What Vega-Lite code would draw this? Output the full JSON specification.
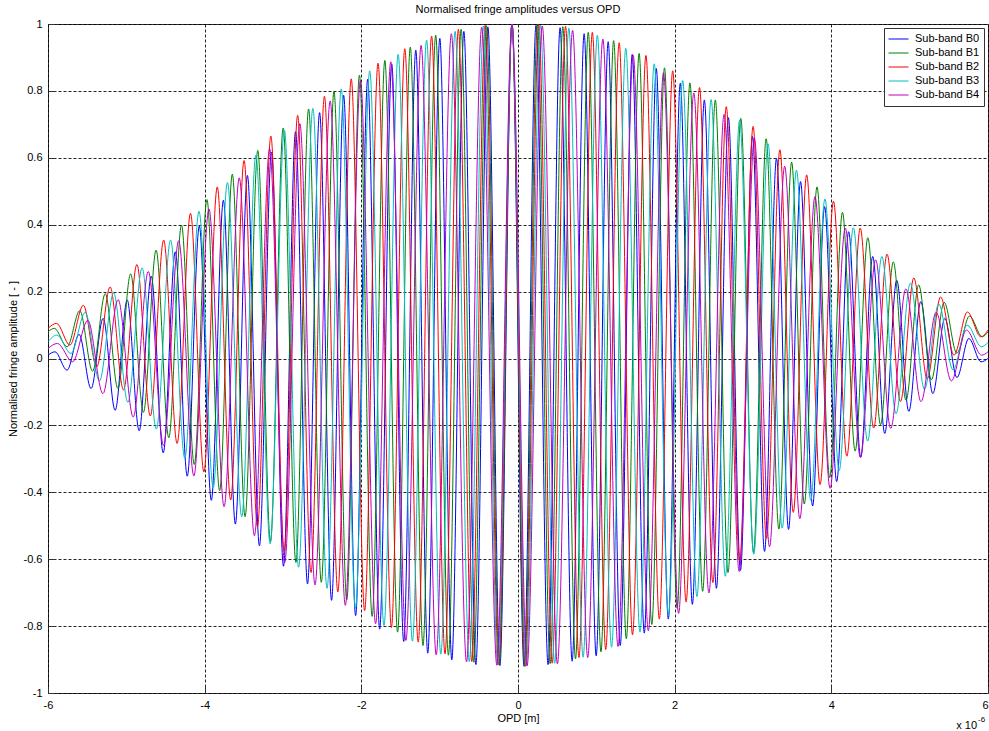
{
"$schema":"https://vega.github.io/schema/vega-lite/v6.json",
"width":940,"height":669,
"autosize":{"type":"none"},
"padding":{"left":48,"top":24,"right":1,"bottom":38},
"background":"white",
"title":{"text":"Normalised fringe amplitudes versus OPD","font":"Liberation Sans","fontSize":11,"fontWeight":"normal","color":"#000","offset":3},
"config":{
 "view":{"stroke":"#333","strokeWidth":1},
 "axis":{"labelFont":"Liberation Sans","labelFontSize":11,"labelColor":"#000","titleFont":"Liberation Sans","titleFontSize":11,"titleFontWeight":"normal","titleColor":"#000","grid":true,"gridColor":"#000","gridDash":[3,2],"gridOpacity":0.85,"gridWidth":1,"domain":false,"ticks":true,"tickColor":"#333","tickSize":-7,"labelPadding":13,"labelFlush":false,"labelOverlap":false}
},
"data":{"values":[
{"s":"Sub-band B0","x":-6,"y":0.01},{"s":"Sub-band B0","x":-5.91,"y":0.02},{"s":"Sub-band B0","x":-5.757,"y":-0.035},{"s":"Sub-band B0","x":-5.603,"y":0.072},{"s":"Sub-band B0","x":-5.45,"y":-0.09},{"s":"Sub-band B0","x":-5.296,"y":0.12},{"s":"Sub-band B0","x":-5.143,"y":-0.155},{"s":"Sub-band B0","x":-4.989,"y":0.175},{"s":"Sub-band B0","x":-4.836,"y":-0.216},{"s":"Sub-band B0","x":-4.682,"y":0.246},{"s":"Sub-band B0","x":-4.529,"y":-0.282},{"s":"Sub-band B0","x":-4.375,"y":0.319},{"s":"Sub-band B0","x":-4.222,"y":-0.352},{"s":"Sub-band B0","x":-4.068,"y":0.396},{"s":"Sub-band B0","x":-3.915,"y":-0.424},{"s":"Sub-band B0","x":-3.761,"y":0.473},{"s":"Sub-band B0","x":-3.608,"y":-0.495},{"s":"Sub-band B0","x":-3.454,"y":0.547},{"s":"Sub-band B0","x":-3.301,"y":-0.56},{"s":"Sub-band B0","x":-3.147,"y":0.617},{"s":"Sub-band B0","x":-2.994,"y":-0.621},{"s":"Sub-band B0","x":-2.84,"y":0.678},{"s":"Sub-band B0","x":-2.687,"y":-0.674},{"s":"Sub-band B0","x":-2.533,"y":0.735},{"s":"Sub-band B0","x":-2.38,"y":-0.723},{"s":"Sub-band B0","x":-2.226,"y":0.787},{"s":"Sub-band B0","x":-2.073,"y":-0.769},{"s":"Sub-band B0","x":-1.919,"y":0.835},{"s":"Sub-band B0","x":-1.766,"y":-0.809},{"s":"Sub-band B0","x":-1.612,"y":0.881},{"s":"Sub-band B0","x":-1.459,"y":-0.846},{"s":"Sub-band B0","x":-1.305,"y":0.922},{"s":"Sub-band B0","x":-1.152,"y":-0.881},{"s":"Sub-band B0","x":-0.998,"y":0.957},{"s":"Sub-band B0","x":-0.845,"y":-0.901},{"s":"Sub-band B0","x":-0.691,"y":0.978},{"s":"Sub-band B0","x":-0.538,"y":-0.915},{"s":"Sub-band B0","x":-0.384,"y":0.991},{"s":"Sub-band B0","x":-0.231,"y":-0.918},{"s":"Sub-band B0","x":-0.077,"y":1.0},{"s":"Sub-band B0","x":0.077,"y":-0.92},{"s":"Sub-band B0","x":0.23,"y":0.996},{"s":"Sub-band B0","x":0.384,"y":-0.915},{"s":"Sub-band B0","x":0.537,"y":0.989},{"s":"Sub-band B0","x":0.691,"y":-0.905},{"s":"Sub-band B0","x":0.844,"y":0.971},{"s":"Sub-band B0","x":0.998,"y":-0.889},{"s":"Sub-band B0","x":1.151,"y":0.947},{"s":"Sub-band B0","x":1.305,"y":-0.858},{"s":"Sub-band B0","x":1.458,"y":0.909},{"s":"Sub-band B0","x":1.612,"y":-0.821},{"s":"Sub-band B0","x":1.765,"y":0.867},{"s":"Sub-band B0","x":1.919,"y":-0.779},{"s":"Sub-band B0","x":2.072,"y":0.823},{"s":"Sub-band B0","x":2.226,"y":-0.735},{"s":"Sub-band B0","x":2.379,"y":0.773},{"s":"Sub-band B0","x":2.533,"y":-0.687},{"s":"Sub-band B0","x":2.686,"y":0.72},{"s":"Sub-band B0","x":2.84,"y":-0.634},{"s":"Sub-band B0","x":2.993,"y":0.664},{"s":"Sub-band B0","x":3.147,"y":-0.577},{"s":"Sub-band B0","x":3.3,"y":0.598},{"s":"Sub-band B0","x":3.454,"y":-0.511},{"s":"Sub-band B0","x":3.607,"y":0.529},{"s":"Sub-band B0","x":3.761,"y":-0.441},{"s":"Sub-band B0","x":3.914,"y":0.454},{"s":"Sub-band B0","x":4.068,"y":-0.368},{"s":"Sub-band B0","x":4.221,"y":0.379},{"s":"Sub-band B0","x":4.375,"y":-0.295},{"s":"Sub-band B0","x":4.528,"y":0.305},{"s":"Sub-band B0","x":4.682,"y":-0.224},{"s":"Sub-band B0","x":4.835,"y":0.234},{"s":"Sub-band B0","x":4.989,"y":-0.158},{"s":"Sub-band B0","x":5.142,"y":0.17},{"s":"Sub-band B0","x":5.296,"y":-0.105},{"s":"Sub-band B0","x":5.449,"y":0.12},{"s":"Sub-band B0","x":5.603,"y":-0.057},{"s":"Sub-band B0","x":5.756,"y":0.06},{"s":"Sub-band B0","x":5.91,"y":-0.01},{"s":"Sub-band B0","x":6,"y":0.0},
{"s":"Sub-band B1","x":-6,"y":0.08},{"s":"Sub-band B1","x":-5.918,"y":0.09},{"s":"Sub-band B1","x":-5.756,"y":0.035},{"s":"Sub-band B1","x":-5.594,"y":0.143},{"s":"Sub-band B1","x":-5.431,"y":-0.038},{"s":"Sub-band B1","x":-5.269,"y":0.194},{"s":"Sub-band B1","x":-5.107,"y":-0.09},{"s":"Sub-band B1","x":-4.945,"y":0.253},{"s":"Sub-band B1","x":-4.782,"y":-0.161},{"s":"Sub-band B1","x":-4.62,"y":0.324},{"s":"Sub-band B1","x":-4.458,"y":-0.237},{"s":"Sub-band B1","x":-4.296,"y":0.399},{"s":"Sub-band B1","x":-4.133,"y":-0.317},{"s":"Sub-band B1","x":-3.971,"y":0.475},{"s":"Sub-band B1","x":-3.809,"y":-0.395},{"s":"Sub-band B1","x":-3.647,"y":0.551},{"s":"Sub-band B1","x":-3.484,"y":-0.473},{"s":"Sub-band B1","x":-3.322,"y":0.622},{"s":"Sub-band B1","x":-3.16,"y":-0.547},{"s":"Sub-band B1","x":-2.998,"y":0.689},{"s":"Sub-band B1","x":-2.835,"y":-0.61},{"s":"Sub-band B1","x":-2.673,"y":0.746},{"s":"Sub-band B1","x":-2.511,"y":-0.669},{"s":"Sub-band B1","x":-2.349,"y":0.798},{"s":"Sub-band B1","x":-2.186,"y":-0.722},{"s":"Sub-band B1","x":-2.024,"y":0.847},{"s":"Sub-band B1","x":-1.862,"y":-0.771},{"s":"Sub-band B1","x":-1.7,"y":0.891},{"s":"Sub-band B1","x":-1.537,"y":-0.818},{"s":"Sub-band B1","x":-1.375,"y":0.931},{"s":"Sub-band B1","x":-1.213,"y":-0.858},{"s":"Sub-band B1","x":-1.051,"y":0.967},{"s":"Sub-band B1","x":-0.888,"y":-0.887},{"s":"Sub-band B1","x":-0.726,"y":0.984},{"s":"Sub-band B1","x":-0.564,"y":-0.908},{"s":"Sub-band B1","x":-0.402,"y":0.995},{"s":"Sub-band B1","x":-0.239,"y":-0.916},{"s":"Sub-band B1","x":-0.077,"y":1.0},{"s":"Sub-band B1","x":0.085,"y":-0.92},{"s":"Sub-band B1","x":0.248,"y":0.998},{"s":"Sub-band B1","x":0.41,"y":-0.912},{"s":"Sub-band B1","x":0.572,"y":0.992},{"s":"Sub-band B1","x":0.734,"y":-0.898},{"s":"Sub-band B1","x":0.897,"y":0.975},{"s":"Sub-band B1","x":1.059,"y":-0.877},{"s":"Sub-band B1","x":1.221,"y":0.95},{"s":"Sub-band B1","x":1.383,"y":-0.838},{"s":"Sub-band B1","x":1.546,"y":0.912},{"s":"Sub-band B1","x":1.708,"y":-0.795},{"s":"Sub-band B1","x":1.87,"y":0.869},{"s":"Sub-band B1","x":2.032,"y":-0.747},{"s":"Sub-band B1","x":2.195,"y":0.824},{"s":"Sub-band B1","x":2.357,"y":-0.696},{"s":"Sub-band B1","x":2.519,"y":0.773},{"s":"Sub-band B1","x":2.681,"y":-0.64},{"s":"Sub-band B1","x":2.844,"y":0.718},{"s":"Sub-band B1","x":3.006,"y":-0.579},{"s":"Sub-band B1","x":3.168,"y":0.657},{"s":"Sub-band B1","x":3.33,"y":-0.51},{"s":"Sub-band B1","x":3.493,"y":0.587},{"s":"Sub-band B1","x":3.655,"y":-0.435},{"s":"Sub-band B1","x":3.817,"y":0.513},{"s":"Sub-band B1","x":3.979,"y":-0.356},{"s":"Sub-band B1","x":4.142,"y":0.437},{"s":"Sub-band B1","x":4.304,"y":-0.277},{"s":"Sub-band B1","x":4.466,"y":0.361},{"s":"Sub-band B1","x":4.628,"y":-0.198},{"s":"Sub-band B1","x":4.791,"y":0.289},{"s":"Sub-band B1","x":4.953,"y":-0.125},{"s":"Sub-band B1","x":5.115,"y":0.22},{"s":"Sub-band B1","x":5.277,"y":-0.064},{"s":"Sub-band B1","x":5.44,"y":0.168},{"s":"Sub-band B1","x":5.602,"y":0.016},{"s":"Sub-band B1","x":5.764,"y":0.127},{"s":"Sub-band B1","x":5.926,"y":0.065},{"s":"Sub-band B1","x":6,"y":0.08},
{"s":"Sub-band B2","x":-6,"y":0.09},{"s":"Sub-band B2","x":-5.891,"y":0.105},{"s":"Sub-band B2","x":-5.72,"y":0.04},{"s":"Sub-band B2","x":-5.549,"y":0.159},{"s":"Sub-band B2","x":-5.378,"y":-0.025},{"s":"Sub-band B2","x":-5.207,"y":0.214},{"s":"Sub-band B2","x":-5.036,"y":-0.094},{"s":"Sub-band B2","x":-4.865,"y":0.281},{"s":"Sub-band B2","x":-4.694,"y":-0.172},{"s":"Sub-band B2","x":-4.523,"y":0.354},{"s":"Sub-band B2","x":-4.352,"y":-0.254},{"s":"Sub-band B2","x":-4.181,"y":0.434},{"s":"Sub-band B2","x":-4.01,"y":-0.339},{"s":"Sub-band B2","x":-3.839,"y":0.513},{"s":"Sub-band B2","x":-3.668,"y":-0.423},{"s":"Sub-band B2","x":-3.497,"y":0.592},{"s":"Sub-band B2","x":-3.326,"y":-0.502},{"s":"Sub-band B2","x":-3.155,"y":0.665},{"s":"Sub-band B2","x":-2.984,"y":-0.577},{"s":"Sub-band B2","x":-2.813,"y":0.727},{"s":"Sub-band B2","x":-2.642,"y":-0.64},{"s":"Sub-band B2","x":-2.471,"y":0.784},{"s":"Sub-band B2","x":-2.3,"y":-0.698},{"s":"Sub-band B2","x":-2.129,"y":0.836},{"s":"Sub-band B2","x":-1.958,"y":-0.754},{"s":"Sub-band B2","x":-1.787,"y":0.883},{"s":"Sub-band B2","x":-1.616,"y":-0.804},{"s":"Sub-band B2","x":-1.445,"y":0.926},{"s":"Sub-band B2","x":-1.274,"y":-0.848},{"s":"Sub-band B2","x":-1.103,"y":0.964},{"s":"Sub-band B2","x":-0.932,"y":-0.883},{"s":"Sub-band B2","x":-0.761,"y":0.984},{"s":"Sub-band B2","x":-0.59,"y":-0.906},{"s":"Sub-band B2","x":-0.419,"y":0.996},{"s":"Sub-band B2","x":-0.248,"y":-0.915},{"s":"Sub-band B2","x":-0.077,"y":1.0},{"s":"Sub-band B2","x":0.094,"y":-0.92},{"s":"Sub-band B2","x":0.265,"y":0.998},{"s":"Sub-band B2","x":0.436,"y":-0.911},{"s":"Sub-band B2","x":0.607,"y":0.993},{"s":"Sub-band B2","x":0.778,"y":-0.894},{"s":"Sub-band B2","x":0.949,"y":0.975},{"s":"Sub-band B2","x":1.12,"y":-0.87},{"s":"Sub-band B2","x":1.291,"y":0.944},{"s":"Sub-band B2","x":1.462,"y":-0.826},{"s":"Sub-band B2","x":1.633,"y":0.906},{"s":"Sub-band B2","x":1.804,"y":-0.779},{"s":"Sub-band B2","x":1.975,"y":0.86},{"s":"Sub-band B2","x":2.146,"y":-0.728},{"s":"Sub-band B2","x":2.317,"y":0.81},{"s":"Sub-band B2","x":2.488,"y":-0.67},{"s":"Sub-band B2","x":2.659,"y":0.753},{"s":"Sub-band B2","x":2.83,"y":-0.606},{"s":"Sub-band B2","x":3.001,"y":0.694},{"s":"Sub-band B2","x":3.172,"y":-0.538},{"s":"Sub-band B2","x":3.343,"y":0.624},{"s":"Sub-band B2","x":3.514,"y":-0.46},{"s":"Sub-band B2","x":3.685,"y":0.549},{"s":"Sub-band B2","x":3.856,"y":-0.377},{"s":"Sub-band B2","x":4.027,"y":0.47},{"s":"Sub-band B2","x":4.198,"y":-0.292},{"s":"Sub-band B2","x":4.369,"y":0.39},{"s":"Sub-band B2","x":4.54,"y":-0.208},{"s":"Sub-band B2","x":4.711,"y":0.312},{"s":"Sub-band B2","x":4.882,"y":-0.129},{"s":"Sub-band B2","x":5.053,"y":0.241},{"s":"Sub-band B2","x":5.224,"y":-0.061},{"s":"Sub-band B2","x":5.395,"y":0.184},{"s":"Sub-band B2","x":5.566,"y":0.01},{"s":"Sub-band B2","x":5.737,"y":0.139},{"s":"Sub-band B2","x":5.908,"y":0.065},{"s":"Sub-band B2","x":6,"y":0.085},
{"s":"Sub-band B3","x":-6,"y":0.05},{"s":"Sub-band B3","x":-5.888,"y":0.07},{"s":"Sub-band B3","x":-5.707,"y":0.015},{"s":"Sub-band B3","x":-5.525,"y":0.138},{"s":"Sub-band B3","x":-5.343,"y":-0.067},{"s":"Sub-band B3","x":-5.162,"y":0.196},{"s":"Sub-band B3","x":-4.98,"y":-0.131},{"s":"Sub-band B3","x":-4.799,"y":0.271},{"s":"Sub-band B3","x":-4.617,"y":-0.211},{"s":"Sub-band B3","x":-4.435,"y":0.354},{"s":"Sub-band B3","x":-4.254,"y":-0.298},{"s":"Sub-band B3","x":-4.072,"y":0.44},{"s":"Sub-band B3","x":-3.891,"y":-0.386},{"s":"Sub-band B3","x":-3.709,"y":0.526},{"s":"Sub-band B3","x":-3.527,"y":-0.473},{"s":"Sub-band B3","x":-3.346,"y":0.608},{"s":"Sub-band B3","x":-3.164,"y":-0.554},{"s":"Sub-band B3","x":-2.983,"y":0.683},{"s":"Sub-band B3","x":-2.801,"y":-0.624},{"s":"Sub-band B3","x":-2.619,"y":0.748},{"s":"Sub-band B3","x":-2.438,"y":-0.687},{"s":"Sub-band B3","x":-2.256,"y":0.806},{"s":"Sub-band B3","x":-2.075,"y":-0.746},{"s":"Sub-band B3","x":-1.893,"y":0.86},{"s":"Sub-band B3","x":-1.711,"y":-0.798},{"s":"Sub-band B3","x":-1.53,"y":0.909},{"s":"Sub-band B3","x":-1.348,"y":-0.845},{"s":"Sub-band B3","x":-1.167,"y":0.952},{"s":"Sub-band B3","x":-0.985,"y":-0.884},{"s":"Sub-band B3","x":-0.803,"y":0.978},{"s":"Sub-band B3","x":-0.622,"y":-0.906},{"s":"Sub-band B3","x":-0.44,"y":0.994},{"s":"Sub-band B3","x":-0.259,"y":-0.916},{"s":"Sub-band B3","x":-0.077,"y":1.0},{"s":"Sub-band B3","x":0.105,"y":-0.919},{"s":"Sub-band B3","x":0.286,"y":0.997},{"s":"Sub-band B3","x":0.468,"y":-0.911},{"s":"Sub-band B3","x":0.649,"y":0.988},{"s":"Sub-band B3","x":0.831,"y":-0.893},{"s":"Sub-band B3","x":1.013,"y":0.966},{"s":"Sub-band B3","x":1.194,"y":-0.863},{"s":"Sub-band B3","x":1.376,"y":0.927},{"s":"Sub-band B3","x":1.557,"y":-0.818},{"s":"Sub-band B3","x":1.739,"y":0.881},{"s":"Sub-band B3","x":1.921,"y":-0.768},{"s":"Sub-band B3","x":2.102,"y":0.831},{"s":"Sub-band B3","x":2.284,"y":-0.712},{"s":"Sub-band B3","x":2.465,"y":0.774},{"s":"Sub-band B3","x":2.647,"y":-0.651},{"s":"Sub-band B3","x":2.829,"y":0.712},{"s":"Sub-band B3","x":3.01,"y":-0.585},{"s":"Sub-band B3","x":3.192,"y":0.642},{"s":"Sub-band B3","x":3.373,"y":-0.507},{"s":"Sub-band B3","x":3.555,"y":0.563},{"s":"Sub-band B3","x":3.737,"y":-0.424},{"s":"Sub-band B3","x":3.918,"y":0.477},{"s":"Sub-band B3","x":4.1,"y":-0.335},{"s":"Sub-band B3","x":4.281,"y":0.391},{"s":"Sub-band B3","x":4.463,"y":-0.247},{"s":"Sub-band B3","x":4.645,"y":0.305},{"s":"Sub-band B3","x":4.826,"y":-0.165},{"s":"Sub-band B3","x":5.008,"y":0.225},{"s":"Sub-band B3","x":5.189,"y":-0.092},{"s":"Sub-band B3","x":5.371,"y":0.163},{"s":"Sub-band B3","x":5.553,"y":-0.034},{"s":"Sub-band B3","x":5.734,"y":0.1},{"s":"Sub-band B3","x":5.916,"y":0.035},{"s":"Sub-band B3","x":6,"y":0.048},
{"s":"Sub-band B4","x":-6,"y":0.03},{"s":"Sub-band B4","x":-5.879,"y":0.045},{"s":"Sub-band B4","x":-5.686,"y":-0.01},{"s":"Sub-band B4","x":-5.492,"y":0.114},{"s":"Sub-band B4","x":-5.299,"y":-0.105},{"s":"Sub-band B4","x":-5.105,"y":0.176},{"s":"Sub-band B4","x":-4.912,"y":-0.175},{"s":"Sub-band B4","x":-4.719,"y":0.26},{"s":"Sub-band B4","x":-4.525,"y":-0.26},{"s":"Sub-band B4","x":-4.332,"y":0.352},{"s":"Sub-band B4","x":-4.138,"y":-0.351},{"s":"Sub-band B4","x":-3.945,"y":0.447},{"s":"Sub-band B4","x":-3.752,"y":-0.443},{"s":"Sub-band B4","x":-3.558,"y":0.54},{"s":"Sub-band B4","x":-3.365,"y":-0.53},{"s":"Sub-band B4","x":-3.171,"y":0.627},{"s":"Sub-band B4","x":-2.978,"y":-0.61},{"s":"Sub-band B4","x":-2.785,"y":0.702},{"s":"Sub-band B4","x":-2.591,"y":-0.677},{"s":"Sub-band B4","x":-2.398,"y":0.77},{"s":"Sub-band B4","x":-2.204,"y":-0.738},{"s":"Sub-band B4","x":-2.011,"y":0.831},{"s":"Sub-band B4","x":-1.818,"y":-0.793},{"s":"Sub-band B4","x":-1.624,"y":0.887},{"s":"Sub-band B4","x":-1.431,"y":-0.843},{"s":"Sub-band B4","x":-1.237,"y":0.936},{"s":"Sub-band B4","x":-1.044,"y":-0.886},{"s":"Sub-band B4","x":-0.851,"y":0.971},{"s":"Sub-band B4","x":-0.657,"y":-0.907},{"s":"Sub-band B4","x":-0.464,"y":0.99},{"s":"Sub-band B4","x":-0.27,"y":-0.917},{"s":"Sub-band B4","x":-0.077,"y":1.0},{"s":"Sub-band B4","x":0.116,"y":-0.919},{"s":"Sub-band B4","x":0.31,"y":0.994},{"s":"Sub-band B4","x":0.503,"y":-0.913},{"s":"Sub-band B4","x":0.697,"y":0.981},{"s":"Sub-band B4","x":0.89,"y":-0.894},{"s":"Sub-band B4","x":1.083,"y":0.955},{"s":"Sub-band B4","x":1.277,"y":-0.861},{"s":"Sub-band B4","x":1.47,"y":0.907},{"s":"Sub-band B4","x":1.664,"y":-0.814},{"s":"Sub-band B4","x":1.857,"y":0.854},{"s":"Sub-band B4","x":2.05,"y":-0.762},{"s":"Sub-band B4","x":2.244,"y":0.794},{"s":"Sub-band B4","x":2.437,"y":-0.701},{"s":"Sub-band B4","x":2.631,"y":0.73},{"s":"Sub-band B4","x":2.824,"y":-0.637},{"s":"Sub-band B4","x":3.017,"y":0.659},{"s":"Sub-band B4","x":3.211,"y":-0.563},{"s":"Sub-band B4","x":3.404,"y":0.575},{"s":"Sub-band B4","x":3.598,"y":-0.479},{"s":"Sub-band B4","x":3.791,"y":0.484},{"s":"Sub-band B4","x":3.984,"y":-0.388},{"s":"Sub-band B4","x":4.178,"y":0.39},{"s":"Sub-band B4","x":4.371,"y":-0.296},{"s":"Sub-band B4","x":4.565,"y":0.295},{"s":"Sub-band B4","x":4.758,"y":-0.209},{"s":"Sub-band B4","x":4.951,"y":0.208},{"s":"Sub-band B4","x":5.145,"y":-0.129},{"s":"Sub-band B4","x":5.338,"y":0.138},{"s":"Sub-band B4","x":5.532,"y":-0.067},{"s":"Sub-band B4","x":5.725,"y":0.085},{"s":"Sub-band B4","x":5.918,"y":0.01},{"s":"Sub-band B4","x":6,"y":0.02}
]},
"layer":[
 {"mark":{"type":"line","interpolate":"monotone","strokeWidth":1,"clip":true},
  "encoding":{
   "x":{"field":"x","type":"quantitative","scale":{"domain":[-6,6],"nice":false,"zero":false},"axis":{"title":"OPD [m]","values":[-6,-4,-2,0,2,4,6],"format":"~g","titlePadding":2,"labelAlign":{"condition":{"test":"datum.value == 6","value":"right"},"value":"center"},"labelExpr":"replace(datum.label, '\u2212', '-')"}},
   "y":{"field":"y","type":"quantitative","scale":{"domain":[-1,1],"nice":false,"zero":false},"axis":{"title":"Normalised fringe amplitude [ - ]","values":[-1,-0.8,-0.6,-0.4,-0.2,0,0.2,0.4,0.6,0.8,1],"format":"~g","titlePadding":5,"labelExpr":"replace(datum.label, '\u2212', '-')"}},
   "color":{"field":"s","type":"nominal","scale":{"domain":["Sub-band B0","Sub-band B1","Sub-band B2","Sub-band B3","Sub-band B4"],"range":["#0000ff","#008000","#ff0000","#00bfbf","#bf00bf"]},
     "legend":{"title":null,"orient":"top-right","offset":4,"strokeColor":"#333","fillColor":"white","padding":4,"symbolType":"stroke","symbolSize":400,"symbolStrokeWidth":1,"labelFont":"Liberation Sans","labelFontSize":11,"labelColor":"#000","rowPadding":0,"clipHeight":14,"labelOffset":6}}
  }},
 {"data":{"values":[{"t":"x 10"}]},
  "mark":{"type":"text","align":"right","baseline":"alphabetic","dx":-11,"dy":36,"font":"Liberation Sans","fontSize":11,"color":"#000"},
  "encoding":{"x":{"datum":6,"type":"quantitative"},"y":{"datum":-1,"type":"quantitative"},"text":{"field":"t"}}},
 {"data":{"values":[{"t":"-6"}]},
  "mark":{"type":"text","align":"left","baseline":"alphabetic","dx":-10,"dy":29,"font":"Liberation Sans","fontSize":8,"color":"#000"},
  "encoding":{"x":{"datum":6,"type":"quantitative"},"y":{"datum":-1,"type":"quantitative"},"text":{"field":"t"}}}
]
}
